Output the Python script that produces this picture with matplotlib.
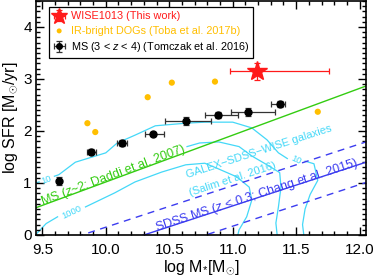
import matplotlib
matplotlib.use("Agg")
import matplotlib.pyplot as plt
import numpy as np

plt.rcParams['font.family'] = ['Liberation Sans', 'DejaVu Sans']
plt.rcParams['mathtext.fontset'] = 'custom'
plt.rcParams['mathtext.rm'] = 'Liberation Sans'
plt.rcParams['mathtext.it'] = 'Liberation Sans:italic'

# WISE1013 (this work)
wise_m = [11.19]
wise_sfr = [3.15]
wise_xerr = [[0.21], [0.57]]
wise_yerr = [[0.16], [0.16]]

# IR-bright DOGs (Toba et al. 2017b)
dog_m = [9.855, 9.917, 10.33, 10.52, 10.86, 11.67]
dog_sfr = [2.15, 1.98, 2.65, 2.93, 2.95, 2.37]

# MS 3<z<4 (Tomczak et al. 2016)
ms_m = [9.63, 9.886, 10.13, 10.37, 10.63, 10.88, 11.12, 11.37]
ms_sfr = [1.04, 1.60, 1.77, 1.94, 2.19, 2.31, 2.37, 2.52]
ms_xlo = [0.01, 0.035, 0.04, 0.06, 0.16, 0.10, 0.13, 0.07]
ms_xhi = [0.01, 0.035, 0.04, 0.09, 0.20, 0.16, 0.21, 0.04]
ms_yerr = [0.07, 0.05, 0.05, 0.04, 0.08, 0.06, 0.08, 0.05]

# Salim et al. 2016 density contours
c10a_m = [9.445, 9.475]
c10a_sfr = [1.00, 1.02]
c10b_m = [9.595, 9.63, 9.76, 10.0, 10.09, 10.23, 10.39, 10.63, 10.78, 11.0, 11.15, 11.27, 11.36, 11.43]
c10b_sfr = [1.13, 1.16, 1.40, 1.58, 1.77, 1.92, 2.10, 2.15, 2.17, 2.17, 2.06, 1.83, 1.58, 1.47]
c10c_m = [11.57, 11.64, 11.67, 11.61, 11.57, 11.55, 11.56]
c10c_sfr = [1.42, 1.37, 1.05, 0.78, 0.50, 0.20, 0.0]
c100_m = [10.64, 10.74, 10.89, 11.05, 11.15, 11.27, 11.37, 11.38, 11.36, 11.34, 11.35]
c100_sfr = [1.70, 1.77, 1.79, 1.70, 1.52, 1.35, 1.20, 0.92, 0.54, 0.23, 0.0]
c1000a_m = [9.445, 9.53, 9.62]
c1000a_sfr = [0.0, 0.22, 0.35]
c1000b_m = [9.84, 10.07, 10.23, 10.44, 10.63, 10.78, 10.87, 11.03, 11.13, 11.15, 11.11, 11.05, 11.04]
c1000b_sfr = [0.54, 0.81, 1.02, 1.21, 1.35, 1.38, 1.29, 1.12, 0.92, 0.67, 0.35, 0.10, 0.0]

# main sequence relations
daddi_slope, daddi_norm = 0.9, 1.92      # log SFR at log M = 11
chang_slope, chang_norm = 0.8, -0.24     # log SFR at log M = 10
chang_scatter = 0.39

c_red = '#ff1a1a'
c_orange = '#ffbf00'
c_green = '#33cc11'
c_blue = '#3c3cf0'
c_cyan = '#44d8f8'

fig = plt.figure(figsize=(3.74, 2.80), dpi=100)
ax = fig.add_axes([36/374, 45/280, 330/374, 234/280])

mgrid = np.linspace(9.3, 12.2, 50)
ax.plot(mgrid, daddi_slope*(mgrid - 11) + daddi_norm, color=c_green, lw=1.0, zorder=2)
chang = chang_slope*(mgrid - 10) + chang_norm
ax.plot(mgrid, chang, color=c_blue, lw=1.0, zorder=2)
ax.plot(mgrid, chang + chang_scatter, color=c_blue, lw=1.0, ls=(0, (5, 4)), zorder=2)
ax.plot(mgrid, chang - chang_scatter, color=c_blue, lw=1.0, ls=(0, (5, 4)), zorder=2)

for xs, ys in [(c10a_m, c10a_sfr), (c10b_m, c10b_sfr), (c10c_m, c10c_sfr),
               (c100_m, c100_sfr), (c1000a_m, c1000a_sfr), (c1000b_m, c1000b_sfr)]:
    ax.plot(xs, ys, color=c_cyan, lw=0.9, zorder=1)

ax.text(9.535, 1.07, '10', color=c_cyan, fontsize=6.8, rotation=20, ha='center', va='center')
ax.text(11.5, 1.45, '10', color=c_cyan, fontsize=6.8, rotation=-25, ha='center', va='center')
ax.text(9.73, 0.44, '1000', color=c_cyan, fontsize=6.8, rotation=25, ha='center', va='center')

ax.text(9.50, 0.58, r'MS ($z$~2: Daddi et al. 2007)', color=c_green, fontsize=9,
        rotation=20.5, rotation_mode='anchor', ha='left', va='baseline')
ax.text(10.64, 1.10, 'GALEX\u2212SDSS\u2212WISE galaxies', color=c_cyan, fontsize=8,
        rotation=18, rotation_mode='anchor', ha='left', va='baseline')
ax.text(10.67, 0.74, '(Salim et al. 2016)', color=c_cyan, fontsize=8,
        rotation=18, rotation_mode='anchor', ha='left', va='baseline')
ax.text(10.40, 0.08, r'SDSS MS ($z$ < 0.3; Chang et al. 2015)', color=c_blue, fontsize=9,
        rotation=18, rotation_mode='anchor', ha='left', va='baseline')

ax.scatter(dog_m, dog_sfr, s=20, color=c_orange, edgecolors='none', zorder=3,
           label='IR-bright DOGs (Toba et al. 2017b)')
ax.errorbar(ms_m, ms_sfr, xerr=[ms_xlo, ms_xhi], yerr=ms_yerr, fmt='o', color='black',
            ecolor='#333333', ms=5, elinewidth=0.9, capsize=2, capthick=0.9, zorder=4,
            label=r'MS (3 < $z$ < 4) (Tomczak et al. 2016)')
ax.errorbar(wise_m, wise_sfr, xerr=wise_xerr, yerr=wise_yerr, fmt='*', color=c_red,
            ms=15, elinewidth=0.9, capsize=2, capthick=0.9, zorder=5,
            label='WISE1013 (This work)')

handles, labels = ax.get_legend_handles_labels()
order = [2, 0, 1]
leg = ax.legend([handles[i] for i in order], [labels[i] for i in order],
                loc='upper left', bbox_to_anchor=(0.039, 0.974), borderaxespad=0,
                fontsize=7.8, handlelength=1.1, handletextpad=0.5, borderpad=0.4,
                labelspacing=0.4, fancybox=False, framealpha=1, edgecolor='black',
                markerscale=0.8)
leg.get_frame().set_linewidth(0.9)
for t, col in zip(leg.get_texts(), [c_red, c_orange, 'black']):
    t.set_color(col)

ax.set_xlim(9.45, 12.05)
ax.set_ylim(0, 4.5)
ax.set_xticks([9.5, 10.0, 10.5, 11.0, 11.5, 12.0])
ax.set_xticklabels(['9.5', '10.0', '10.5', '11.0', '11.5', '12.0'])
ax.set_yticks([0, 1, 2, 3, 4])
ax.set_xticks(np.arange(9.5, 12.05, 0.1), minor=True)
ax.set_yticks(np.arange(0, 4.55, 0.1), minor=True)
ax.tick_params(which='both', direction='in', top=True, right=True, labelsize=11, width=1)
ax.tick_params(which='major', length=6)
ax.tick_params(axis='x', which='major', pad=6)
ax.tick_params(axis='y', which='major', pad=3)
ax.tick_params(which='minor', length=3)
for sp in ax.spines.values():
    sp.set_linewidth(1.2)

ax.set_xlabel(r'log M$_{*}$[M$_{\odot}$]', fontsize=11.5, labelpad=1)
ax.set_ylabel(r'log SFR [M$_{\odot}$/yr]', fontsize=11.5)
ax.yaxis.set_label_coords(-0.05, 0.5)

fig.savefig('out.png', dpi=100)
